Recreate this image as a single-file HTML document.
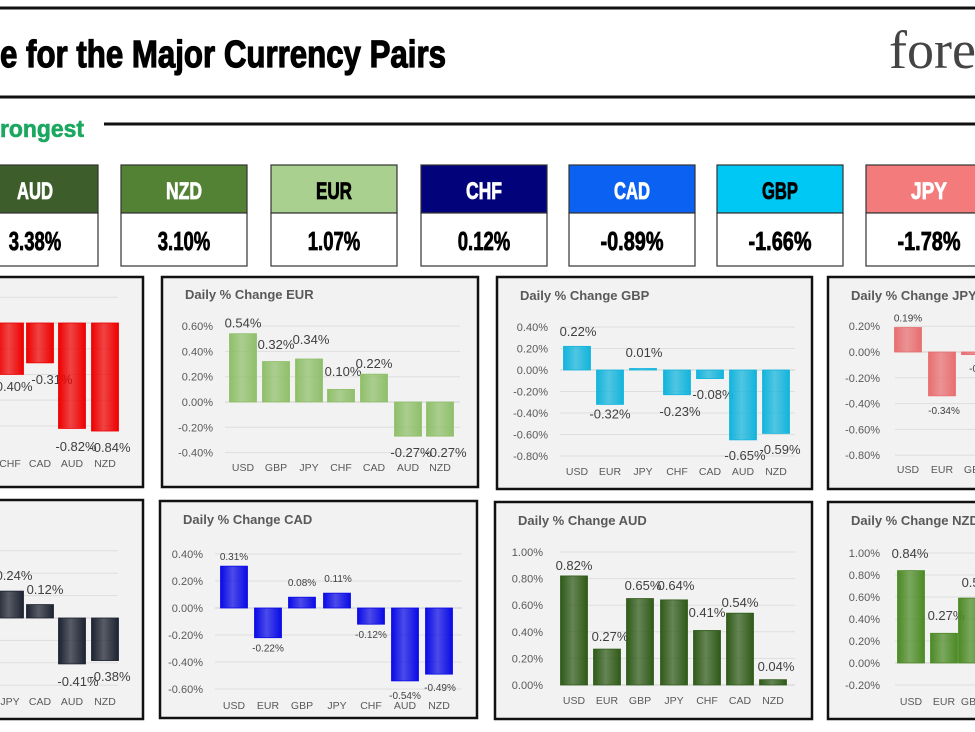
<!DOCTYPE html>
<html><head><meta charset="utf-8"><style>
html,body{margin:0;padding:0;background:#fff;width:975px;height:732px;overflow:hidden}
svg{display:block}
</style></head><body>
<svg id="s" width="975" height="732" xmlns="http://www.w3.org/2000/svg" font-family="Liberation Sans, sans-serif">
<rect width="975" height="732" fill="#fff"/>
<line x1="0" y1="8" x2="975" y2="8" stroke="#111" stroke-width="3"/>
<line x1="0" y1="97" x2="975" y2="97" stroke="#111" stroke-width="3"/>
<text x="0" y="67" font-size="38" font-weight="bold" textLength="446" lengthAdjust="spacingAndGlyphs" fill="#000" stroke="#000" stroke-width="1.2">e for the Major Currency Pairs</text>
<text x="889" y="68" font-size="54" font-family="Liberation Serif, serif" fill="#444">fore</text>
<text x="0" y="137" font-size="24" font-weight="bold" textLength="84" lengthAdjust="spacingAndGlyphs" fill="#1aa860" stroke="#1aa860" stroke-width="0.6">rongest</text>
<line x1="104" y1="124" x2="975" y2="124" stroke="#111" stroke-width="3"/>
<g id="tiles"></g>
<g id="charts"></g>
</svg>
<script>
var NS="http://www.w3.org/2000/svg";
function el(p,t,a,txt){var e=document.createElementNS(NS,t);for(var k in a)e.setAttribute(k,a[k]);if(txt!=null)e.textContent=txt;p.appendChild(e);return e;}
var tg=document.getElementById('tiles');
var tiles=[["AUD","3.38%",-30,98,"#3d5e2a","#fff"],["NZD","3.10%",121,247,"#538234","#fff"],["EUR","1.07%",271,397,"#a9d08e","#000"],["CHF","0.12%",421,547,"#02027a","#fff"],["CAD","-0.89%",569,695,"#0b62f2","#fff"],["GBP","-1.66%",717,843,"#00c8f5","#000"],["JPY","-1.78%",866,1000,"#f47b7b","#fff"]];
tiles.forEach(function(t){
 el(tg,'rect',{x:t[2],y:165,width:t[3]-t[2],height:48,fill:t[4],stroke:'#333','stroke-width':1.2});
 el(tg,'rect',{x:t[2],y:213,width:t[3]-t[2],height:53,fill:'#fff',stroke:'#333','stroke-width':1.2});
 var cx=(Math.max(t[2],0)+Math.min(t[3],975))/2; if(t[0]=="AUD")cx=35; if(t[0]=="JPY")cx=929;
 el(tg,'text',{x:cx,y:199,'font-size':24,'font-weight':'bold','text-anchor':'middle',fill:t[5],stroke:t[5],'stroke-width':0.8,textLength:t[0].length*12,lengthAdjust:'spacingAndGlyphs'},t[0]);
 el(tg,'text',{x:cx,y:250,'font-size':26,'font-weight':'bold','text-anchor':'middle',fill:'#000',stroke:'#000','stroke-width':0.8,textLength:t[1].length*10.5,lengthAdjust:'spacingAndGlyphs'},t[1]);
});
var cg=document.getElementById('charts');
var defs=el(cg,'defs',{});
var gi=0;
function grad(c){var id='g'+(gi++);var g=el(defs,'linearGradient',{id:id,x1:0,y1:0,x2:1,y2:0});
 el(g,'stop',{offset:'0','stop-color':c,'stop-opacity':1});el(g,'stop',{offset:'0.45','stop-color':c,'stop-opacity':0.72});el(g,'stop',{offset:'1','stop-color':c,'stop-opacity':1});return 'url(#'+id+')';}
function chart(o){
 el(cg,'rect',{x:o.box[0],y:o.box[1],width:o.box[2]-o.box[0],height:o.box[3]-o.box[1],fill:'#f2f2f2',stroke:'#111','stroke-width':2.5});
 if(o.title)el(cg,'text',{x:o.tx,y:o.ty,'font-size':13,'font-weight':'bold',fill:'#595959'},o.title);
 o.ticks.forEach(function(v){var y=o.zero-v*o.scale;
  el(cg,'line',{x1:o.g1,y1:y,x2:o.g2,y2:y,stroke:v==0?'#d0d0d0':'#dedede','stroke-width':1});
  if(o.ax)el(cg,'text',{x:o.ax,y:y+4,'font-size':11,'text-anchor':'end',fill:'#595959'},v.toFixed(2)+'%');});
 var fill=grad(o.color);
 o.bars.forEach(function(b){var cat=b[0],x=b[1],v=b[2];var h=Math.abs(v)*o.scale;if(h<1.5)h=1.5;
  var y=v>=0?o.zero-h:o.zero;
  el(cg,'rect',{x:x-o.w/2,y:y,width:o.w,height:h,fill:fill,stroke:o.color,'stroke-width':0.8});
  el(cg,'text',{x:x,y:o.catY,'font-size':10.5,'text-anchor':'middle',fill:'#595959'},cat);
  var lab=(v<0?'-':'')+Math.abs(v).toFixed(2)+'%';
  var lx=b[3]!=null?b[3]:x, ly=b[4]!=null?b[4]:(v>=0?y-6:y+h+14);
  el(cg,'text',{x:lx,y:ly,'font-size':o.fs||13,'text-anchor':'middle',fill:'#404040'},lab);
 });
}
chart({box:[-10,277,143,487],zero:323,scale:128.6,ticks:[0.2,0,-0.2,-0.4,-0.6,-0.8],g1:0,g2:118,color:'#ee0000',w:27,catY:467,
 bars:[["CHF",10,-0.40,12,391],["CAD",40,-0.31,52,384],["AUD",72,-0.82,76,451],["NZD",105,-0.84,110,452]]});
chart({box:[162,277,478,487],title:'Daily % Change EUR',tx:185,ty:299,zero:402,scale:126.5,ticks:[0.6,0.4,0.2,0,-0.2,-0.4],g1:225,g2:460,ax:213,color:'#8fbf6a',w:27,catY:471,
 bars:[["USD",243,0.54],["GBP",276,0.32,276,349],["JPY",309,0.34,311,344],["CHF",341,0.10,343,376],["CAD",374,0.22],["AUD",408,-0.27,411,457],["NZD",440,-0.27,446,457]]});
chart({box:[497,277,812,489],title:'Daily % Change GBP',tx:520,ty:300,zero:370,scale:107.5,ticks:[0.4,0.2,0,-0.2,-0.4,-0.6,-0.8],g1:560,g2:795,ax:548,color:'#12b4dc',w:27,catY:475,
 bars:[["USD",577,0.22,578,336],["EUR",610,-0.32],["JPY",643,0.01,644,357],["CHF",677,-0.23,680,416],["CAD",710,-0.08,713,399],["AUD",743,-0.65,745,460],["NZD",776,-0.59,780,454]]});
chart({box:[828,277,990,489],title:'Daily % Change JPY',tx:851,ty:300,zero:352,scale:129,ticks:[0.2,0,-0.2,-0.4,-0.6,-0.8],g1:895,g2:975,ax:880,color:'#e86e70',w:27,catY:473,fs:10,
 bars:[["USD",908,0.19],["EUR",942,-0.34,944,414],["GBP",975,-0.02,985,372]]});
chart({box:[-10,500,143,719],zero:618,scale:112,ticks:[0.6,0.4,0.2,0,-0.2,-0.4,-0.6],g1:0,g2:118,color:'#1c2230',w:27,catY:705,
 bars:[["JPY",10,0.24,14,580],["CAD",40,0.12,45,594],["AUD",72,-0.41,78,686],["NZD",105,-0.38,110,681]]});
chart({box:[160,501,477,718],title:'Daily % Change CAD',tx:183,ty:524,zero:608,scale:135,ticks:[0.4,0.2,0,-0.2,-0.4,-0.6],g1:215,g2:462,ax:203,color:'#0a0ae6',w:27,catY:709,fs:10,
 bars:[["USD",234,0.31],["EUR",268,-0.22],["GBP",302,0.08,302,586],["JPY",337,0.11,338,582],["CHF",371,-0.12],["AUD",405,-0.54,405,699],["NZD",439,-0.49,440,691]]});
chart({box:[495,502,812,719],title:'Daily % Change AUD',tx:518,ty:525,zero:685,scale:133,ticks:[1,0.8,0.6,0.4,0.2,0],g1:560,g2:795,ax:543,color:'#2f5a18',w:27,catY:704,
 bars:[["USD",574,0.82],["EUR",607,0.27,610,641],["GBP",640,0.65,643,590],["JPY",674,0.64,676,590],["CHF",707,0.41,707,617],["CAD",740,0.54],["NZD",773,0.04,776,671]]});
chart({box:[828,502,990,719],title:'Daily % Change NZD',tx:851,ty:525,zero:663,scale:110,ticks:[1,0.8,0.6,0.4,0.2,0,-0.2],g1:895,g2:975,ax:880,color:'#4c8a25',w:27,catY:705,
 bars:[["USD",911,0.84,910,558],["EUR",944,0.27,946,620],["GBP",972,0.59,980,587]]});
</script>
</body></html>
